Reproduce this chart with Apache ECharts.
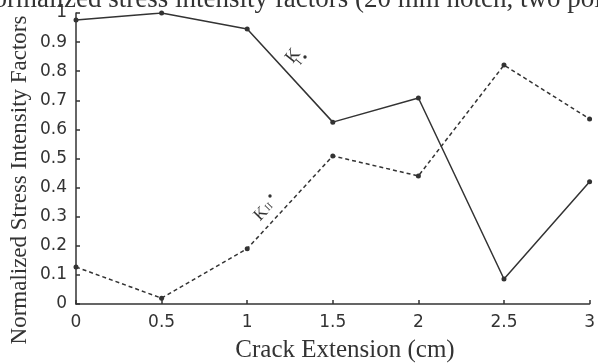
<!DOCTYPE html>
<html><head><meta charset="utf-8">
<script src="https://cdn.jsdelivr.net/npm/echarts@6/dist/echarts.min.js"></script>
<style>html,body{margin:0;padding:0;background:#fff}#c{width:598px;height:363px}</style>
</head><body><div id="c"></div>
<script>
const crackExt = [0, 0.5, 1, 1.5, 2, 2.5, 3];
const kI  = [0.976, 1.0, 0.945, 0.625, 0.708, 0.086, 0.42];
const kII = [0.127, 0.02, 0.19, 0.509, 0.44, 0.821, 0.636];
const yTicks = [0,0.1,0.2,0.3,0.4,0.5,0.6,0.7,0.8,0.9,1];
const xTicks = [0,0.5,1,1.5,2,2.5,3];

const ink = '#333';
const chart = echarts.init(document.getElementById('c'));
chart.setOption({
  animation:false,
  backgroundColor:'#fff',
  grid:{left:76,right:5,top:13,bottom:59},
  xAxis:{type:'value',min:0,max:3,interval:0.5,
    axisLine:{lineStyle:{color:ink,width:1.5}},
    axisTick:{inside:true,length:4,lineStyle:{color:ink,width:1.5}},
    splitLine:{show:false},
    axisLabel:{color:ink,fontFamily:'DejaVu Sans',fontSize:17,margin:10,
      formatter:v=>xTicks.includes(v)?String(v):''}},
  yAxis:{type:'value',min:0,max:1,interval:0.1,
    axisLine:{show:true,lineStyle:{color:ink,width:1.5}},
    axisTick:{show:true,inside:true,length:4,lineStyle:{color:ink,width:1.5}},
    splitLine:{show:false},
    axisLabel:{color:ink,fontFamily:'DejaVu Sans',fontSize:17,margin:9,
      formatter:v=>{const r=Math.round(v*10)/10;return yTicks.includes(r)?String(r):'';}}},
  series:[
    {type:'line',data:crackExt.map((x,i)=>[x,kI[i]]),symbol:'circle',symbolSize:5,
     lineStyle:{color:ink,width:1.5},itemStyle:{color:ink}},
    {type:'line',data:crackExt.map((x,i)=>[x,kII[i]]),symbol:'circle',symbolSize:5,
     lineStyle:{color:ink,width:1.5,type:[4,3]},itemStyle:{color:ink}}
  ],
  graphic:[
    {type:'text',left:-26,top:-14,style:{text:'Normalized stress intensity factors (20 mm notch, two point',
      font:'27px "Liberation Serif"',fill:ink}},
    {type:'text',x:20,y:180,rotation:Math.PI/2,style:{text:'Normalized Stress Intensity Factors',
      font:'23px "Liberation Serif"',fill:ink,align:'center',verticalAlign:'middle'}},
    {type:'text',x:345,y:350,style:{text:'Crack Extension (cm)',
      font:'25px "Liberation Serif"',fill:ink,align:'center',verticalAlign:'middle'}},
    {type:'text',x:293,y:56,rotation:0.9,style:{text:'K',font:'18px "Liberation Serif"',fill:ink,align:'center',verticalAlign:'middle'}},
    {type:'text',x:299,y:62,rotation:0.9,style:{text:'I',font:'11px "Liberation Serif"',fill:ink,align:'center',verticalAlign:'middle'}},
    {type:'circle',shape:{cx:305,cy:57,r:1.7},style:{fill:ink}},
    {type:'text',x:261,y:214,rotation:0.8,style:{text:'K',font:'17px "Liberation Serif"',fill:ink,align:'center',verticalAlign:'middle'}},
    {type:'text',x:269,y:207,rotation:0.8,style:{text:'II',font:'10px "Liberation Serif"',fill:ink,align:'center',verticalAlign:'middle'}},
    {type:'circle',shape:{cx:270,cy:196,r:1.7},style:{fill:ink}}
  ]
});
</script></body></html>
